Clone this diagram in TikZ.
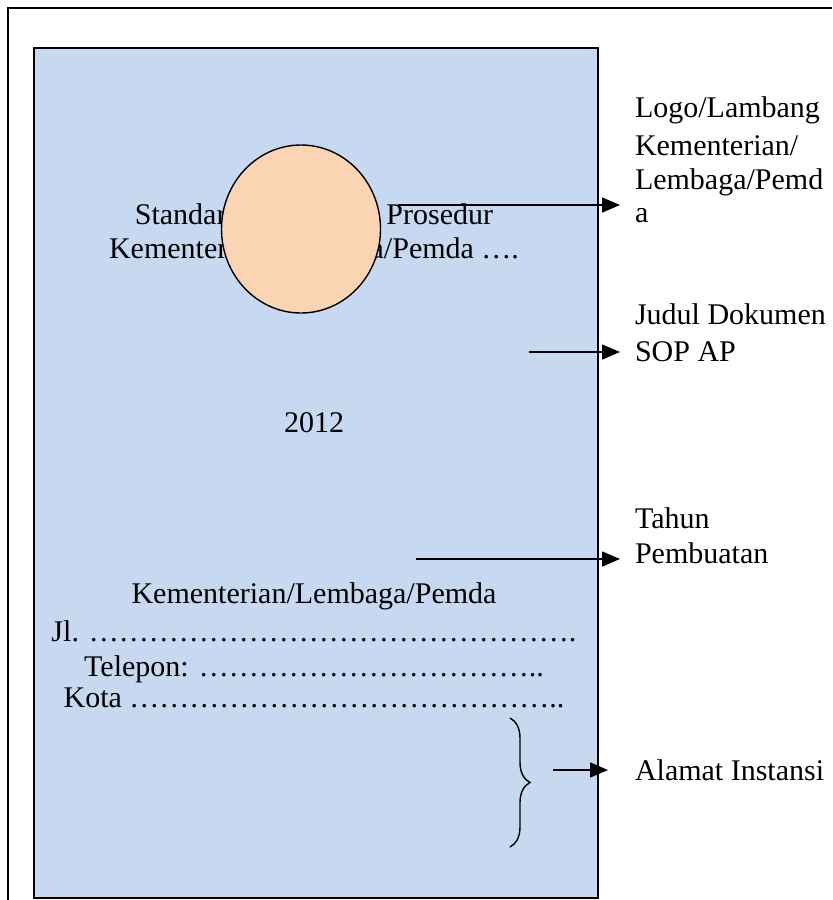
\documentclass[tikz,border=0pt]{standalone}
\usepackage{fontspec}
\setmainfont{Liberation Serif}
\usetikzlibrary{arrows.meta,shapes.geometric,decorations.pathreplacing}
\definecolor{pageblue}{HTML}{C6D9F1}
\definecolor{logopeach}{HTML}{FBD4B4}
\begin{document}
\begin{tikzpicture}[x=0.5pt,y=-0.5pt,
  txt/.style={font=\fontsize{15}{17.5}\selectfont, inner sep=0pt, outer sep=0pt},
  lbl/.style={txt, anchor=base west},
  ctr/.style={txt, anchor=base},
  arr/.style={-{Triangle[length=9pt,width=7.5pt]}, line width=0.8pt}]
\useasboundingbox (0,0) rectangle (832,900);
% outer frame
\draw[line width=0.8pt] (832,8) -- (8,8) -- (8,900);
% page
\node (page) [draw, fill=pageblue, line width=0.8pt, inner sep=0pt,
  minimum width=282pt, minimum height=425pt, anchor=north west] at (33,47) {};
% title (partly hidden by logo)
\node (title1) [ctr] at (314,224) {Standar Operasional Prosedur};
\node (title2) [ctr] at (314,258) {Kementerian/Lembaga/Pemda \dots.};
% logo
\node (logo) [ellipse, draw, fill=logopeach, line width=0.7pt, inner sep=0pt,
  minimum width=79.5pt, minimum height=84pt] at (301,229) {};
% year
\node (year) [ctr] at (314,432) {2012};
% address block
\node (inst) [ctr] at (314,603) {Kementerian/Lembaga/Pemda};
\node (jl) [ctr] at (314,641) {Jl. \dots\dots\dots\dots\dots\dots\dots\dots\dots\dots\dots\dots\dots\dots\dots\dots.};
\node (tel) [ctr] at (314,676) {Telepon: \dots\dots\dots\dots\dots\dots\dots\dots\dots\dots\dots..};
\node (kota) [ctr] at (314,707) {Kota \dots\dots\dots\dots\dots\dots\dots\dots\dots\dots\dots\dots\dots\dots..};
% brace
\coordinate (bt) at (510,718);
\coordinate (bb) at (510,847);
\draw[line width=0.7pt, decorate, decoration={brace, amplitude=10pt}] (bt) -- (bb);
% right labels
\node (l1a) [lbl] at (635,117) {Logo/Lambang};
\node (l1b) [lbl] at (635,155) {Kementerian/};
\node (l1c) [lbl] at (635,189) {Lembaga/Pemd};
\node (l1d) [lbl] at (635,222) {a};
\node (l2a) [lbl] at (635,324) {Judul Dokumen};
\node (l2b) [lbl] at (635,361) {SOP AP};
\node (l3a) [lbl] at (635,528) {Tahun};
\node (l3b) [lbl] at (635,563) {Pembuatan};
\node (l4) [lbl] at (635,780) {Alamat Instansi};
% arrows
\coordinate (s1) at (398,205); \coordinate (e1) at (620,205);
\coordinate (s2) at (529,352); \coordinate (e2) at (620,352);
\coordinate (s3) at (416,559); \coordinate (e3) at (620,559);
\coordinate (s4) at (553,770); \coordinate (e4) at (608,770);
\draw[arr] (s1) -- (e1);
\draw[arr] (s2) -- (e2);
\draw[arr] (s3) -- (e3);
\draw[arr] (s4) -- (e4);
\end{tikzpicture}
\end{document}
